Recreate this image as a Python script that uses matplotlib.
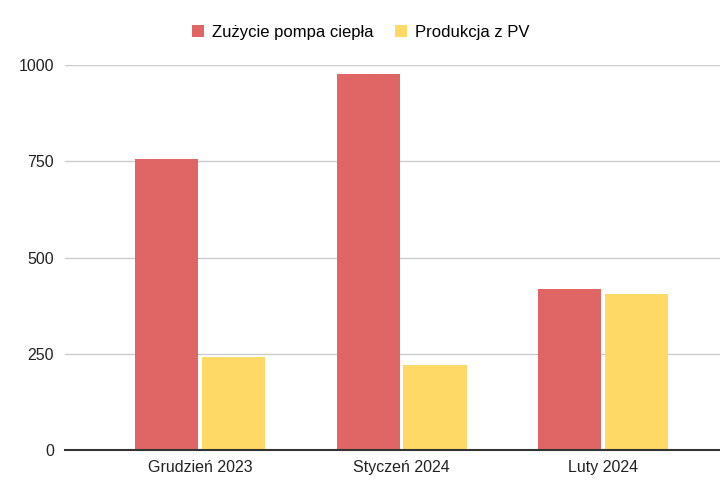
import numpy as np
import matplotlib
matplotlib.use("Agg")
from matplotlib import pyplot as plt

# data
months = ["Grudzień 2023", "Styczeń 2024", "Luty 2024"]
pompa = [757, 977, 419]
pv = [242, 221, 404]
series_names = ["Zużycie pompa ciepła", "Produkcja z PV"]
yticks = [0, 250, 500, 750, 1000]

plt.rcParams['font.family'] = ['Liberation Sans', 'DejaVu Sans']

fig = plt.figure(figsize=(7.2, 5), dpi=100)
ax = fig.add_axes([65 / 720, 0.1, 1 - 65 / 720, 0.77])

x = np.arange(len(months))
w = 0.313
ax.bar(x - 0.166, pompa, w, color="#e06666", label=series_names[0], zorder=3)
ax.bar(x + 0.166, pv, w, color="#ffd966", label=series_names[1], zorder=3)

ax.set_xlim(-0.67, 2.58)
ax.set_ylim(0, 1000)
ax.set_yticks(yticks)
ax.set_yticklabels([str(t) for t in yticks], fontsize=11.5, color="#222222")
ax.set_xticks(x)
ax.set_xticklabels(months, fontsize=11.5, color="#222222")
ax.tick_params(axis="both", length=0)
ax.tick_params(axis="y", pad=8)
ax.tick_params(axis="x", pad=7)

ax.grid(axis="y", color="#cccccc", linewidth=1, zorder=0)
for s in ["top", "right", "left"]:
    ax.spines[s].set_visible(False)
ax.spines["bottom"].set_color("#333333")
ax.spines["bottom"].set_linewidth(1.5)
ax.spines["bottom"].set_zorder(4)

fig.legend(loc="center", bbox_to_anchor=(361 / 720, 1 - 32 / 500), ncol=2,
           frameon=False, fontsize=12, handlelength=0.7, handleheight=0.7,
           handletextpad=0.5, columnspacing=1.3)

fig.savefig("out.png", dpi=100)
